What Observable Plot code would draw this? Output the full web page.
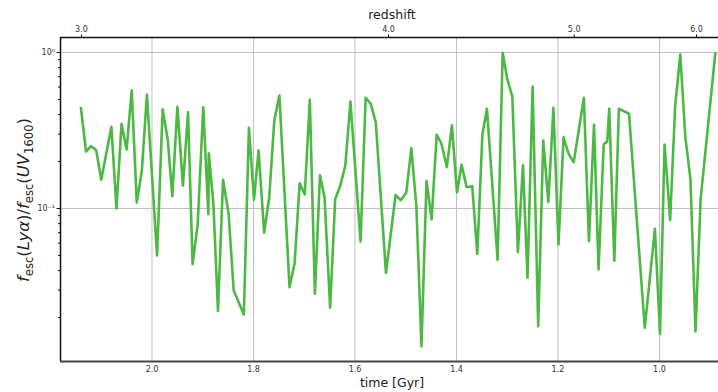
<!DOCTYPE html>
<html><head><meta charset="utf-8">
<script src="https://cdn.jsdelivr.net/npm/d3@7"></script>
<script src="https://cdn.jsdelivr.net/npm/@observablehq/plot@0.6"></script>
<style>
html,body{margin:0;padding:0;background:#fff;}
svg{display:block;}
</style></head><body><div id="chart"></div>
<script>
// time [Gyr]
const time = [2.140,2.130,2.120,2.110,2.100,2.080,2.070,2.060,2.050,2.040,
2.030,2.020,2.010,1.990,1.979,1.969,1.960,1.950,1.939,1.929,
1.920,1.910,1.899,1.889,1.888,1.879,1.870,1.860,1.849,1.839,
1.819,1.809,1.799,1.790,1.779,1.769,1.759,1.749,1.729,1.719,
1.709,1.699,1.689,1.679,1.669,1.660,1.649,1.639,1.629,1.619,
1.609,1.589,1.579,1.569,1.559,1.539,1.520,1.510,1.499,1.489,
1.479,1.469,1.459,1.449,1.439,1.430,1.419,1.409,1.399,1.390,
1.380,1.369,1.359,1.349,1.340,1.319,1.309,1.300,1.290,1.279,
1.269,1.260,1.250,1.239,1.229,1.219,1.209,1.199,1.189,1.179,
1.169,1.149,1.139,1.129,1.120,1.110,1.103,1.099,1.089,1.080,
1.060,1.029,1.009,0.999,0.990,0.979,0.969,0.959,0.949,0.939,
0.929,0.919,0.890];
// f_esc(Lya)/f_esc(UV1600)
const ratio = [0.44,0.232,0.251,0.236,0.153,0.334,0.100,0.349,0.239,0.571,
0.109,0.175,0.538,0.050,0.433,0.277,0.120,0.449,0.140,0.413,
0.044,0.079,0.446,0.092,0.226,0.107,0.022,0.153,0.0925,0.0298,
0.0209,0.329,0.114,0.236,0.070,0.118,0.367,0.530,0.0313,0.0446,
0.145,0.123,0.497,0.0284,0.163,0.118,0.0231,0.115,0.140,0.189,
0.485,0.0614,0.513,0.469,0.357,0.0387,0.122,0.113,0.126,0.244,
0.103,0.0131,0.150,0.085,0.298,0.262,0.184,0.341,0.127,0.191,
0.137,0.139,0.0512,0.297,0.436,0.0469,0.996,0.678,0.522,0.0525,
0.189,0.036,0.605,0.0176,0.273,0.110,0.442,0.0588,0.286,0.224,
0.198,0.513,0.0617,0.344,0.0406,0.257,0.270,0.436,0.0462,0.436,
0.405,0.0172,0.0741,0.0157,0.257,0.0846,0.457,0.971,0.286,0.155,
0.0163,0.114,0.990];

const timeTicks = [2.0,1.8,1.6,1.4,1.2,1.0];
const yTicks = [1, 0.1];
const yTickLabels = ["10\u2070","10\u207B\u00B9"];
const redshiftLabels = ["3.0","4.0","5.0","6.0"];
const redshiftTimes = [2.139,1.534,1.168,0.927];
const xDomain = [2.1803, 0.8837];
const yDomain = [0.01045, 1.248];

const data = time.map((t,i)=>({t, r: ratio[i]}));
const rsMap = new Map(redshiftTimes.map((t,i)=>[t, redshiftLabels[i]]));
const yMap = new Map(yTicks.map((v,i)=>[v, yTickLabels[i]]));
const minor = [];
for (const e of [0.01, 0.1]) for (let k=2;k<=9;k++) minor.push(+(k*e).toFixed(3));

const W=718, H=392;
const chart = Plot.plot({
  width:W, height:H, marginLeft:60, marginRight:0, marginTop:37, marginBottom:31,
  style:{fontFamily:"DejaVu Sans", fontSize:"8px", background:"#fff", color:"#333"},
  x:{domain:xDomain},
  y:{type:"log", domain:yDomain},
  marks:[
    Plot.ruleX(timeTicks,{stroke:"#b8b8b8", strokeWidth:0.9}),
    Plot.ruleY(yTicks,{stroke:"#b8b8b8", strokeWidth:0.9}),
    Plot.axisX(timeTicks,{anchor:"bottom", tickSize:0, tickPadding:5, tickFormat:d3.format(".1f"), label:null}),
    Plot.axisX(redshiftTimes,{anchor:"top", tickSize:3.5, tickPadding:2, tickFormat:d=>rsMap.get(d), label:null, stroke:"#111"}),
    Plot.axisY(yTicks,{anchor:"left", tickSize:3.5, tickPadding:2, tickFormat:d=>yMap.get(d), label:null, stroke:"#111"}),
    Plot.axisY(minor,{anchor:"left", tickSize:2, tickFormat:()=>"", label:null, stroke:"#111"}),
    Plot.line(data,{x:"t", y:"r", stroke:"#4cb944", strokeWidth:2.6, strokeLinejoin:"round"}),
    Plot.ruleX([xDomain[0]],{stroke:"#111", strokeWidth:1.5}),
    Plot.ruleY([yDomain[1]],{stroke:"#111", strokeWidth:1.5}),
    Plot.ruleY([yDomain[0]],{stroke:"#444", strokeWidth:2})
  ]
});
document.getElementById("chart").appendChild(chart);

const svg = d3.select(chart);
svg.append("text").attr("x",392).attr("y",19).attr("text-anchor","middle")
  .attr("font-family","DejaVu Sans").attr("font-size",12.5).attr("fill","#222").text("redshift");
svg.append("text").attr("x",392).attr("y",387).attr("text-anchor","middle")
  .attr("font-family","DejaVu Sans").attr("font-size",12.5).attr("fill","#222").text("time [Gyr]");

const yl = svg.append("text").attr("transform","translate(29,200) rotate(-90)")
  .attr("text-anchor","middle").attr("font-family","DejaVu Sans").attr("font-size",16.5).attr("fill","#222");
const parts = [
  ["f","italic",0,1],["esc","normal",4,0.7],["(","normal",-4,1],["Ly\u03B1","italic",0,1],[")/","normal",0,1],
  ["f","italic",0,1],["esc","normal",4,0.7],["(","normal",-4,1],["UV","italic",0,1],["1600","normal",4,0.7],[")","normal",-4,1]
];
for (const [s, st, dy, sc] of parts) {
  yl.append("tspan").attr("font-style",st).attr("dy",dy).attr("font-size",16.5*sc).text(s);
}
</script>
</body></html>
